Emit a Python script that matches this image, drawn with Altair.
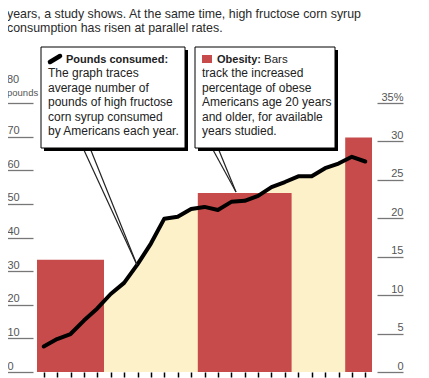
import altair as alt
import pandas as pd

# ---- data ----
years = list(range(1976, 2001))
hfcs_pounds = [7.6, 9.8, 11.3, 15.3, 18.9, 23.2, 26.5, 32.0, 38.2, 45.6,
               46.2, 48.5, 49.1, 48.2, 50.6, 50.9, 52.4, 55.0, 56.5, 58.2,
               58.2, 60.6, 62.0, 64.0, 62.6]

obesity_start = [1976, 1988, 1999]
obesity_end = [1980, 1994, 2000]
obesity_pct = [14.6, 23.3, 30.5]

pound_ticks = [0, 10, 20, 30, 40, 50, 60, 70, 80]
pct_ticks = [0, 5, 10, 15, 20, 25, 30, 35]

intro_lines = [
    "years, a study shows. At the same time, high fructose corn syrup",
    "consumption has risen at parallel rates.",
]
pounds_head = "Pounds consumed:"
pounds_body = ["The graph traces", "average number of", "pounds of high fructose",
               "corn syrup consumed", "by Americans each year."]
obesity_head = "Obesity:"
obesity_head2 = "Bars"
obesity_body = ["track the increased", "percentage of obese", "Americans age 20 years",
                "and older, for available", "years studied."]

RED = "#C84B4B"
CREAM = "#FDF1C9"
FONT = "Liberation Sans"

hfcs = pd.DataFrame({"year": years, "pounds": hfcs_pounds})
obes = pd.DataFrame({"start": obesity_start, "end": obesity_end, "pct": obesity_pct})
one = alt.Data(values=[{"a": 1}])

xscale = alt.Scale(domain=[1975.5, 2000.5], nice=False, zero=False)
yscale = alt.Scale(domain=[0, 80], nice=False)
pscale = alt.Scale(domain=[0, 35], nice=False)

xaxis = alt.Axis(values=years, labels=False, domain=False, grid=False,
                 ticks=True, tickSize=5, tickColor="black", tickWidth=1.5,
                 title=None)

area = alt.Chart(hfcs).mark_area(color=CREAM).encode(
    x=alt.X("year:Q", scale=xscale, axis=xaxis),
    y=alt.Y("pounds:Q", scale=yscale,
            axis=alt.Axis(orient="left", values=pound_ticks, domain=False, grid=False,
                          tickSize=26, tickColor="#777", tickWidth=1.3, offset=4,
                          labelAlign="left", labelPadding=0, labelBaseline="alphabetic",
                          labelOffset=-3, labelFontSize=11, labelColor="#555",
                          labelFont=FONT,
                          labelExpr="datum.value == 80 ? '' : datum.label",
                          title=None)),
)

bars = alt.Chart(obes).transform_calculate(
    x0="datum.start - 0.5", x1="datum.end + 0.5"
).mark_rect(color=RED).encode(
    x=alt.X("x0:Q", scale=xscale, axis=xaxis),
    x2="x1:Q",
    y=alt.Y("pct:Q", scale=pscale,
            axis=alt.Axis(orient="right", values=pct_ticks, domain=False, grid=False,
                          tickSize=26, tickColor="#777", tickWidth=1.3, offset=5,
                          labelAlign="right", labelPadding=0, labelBaseline="alphabetic",
                          labelOffset=-3, labelFontSize=11, labelColor="#555",
                          labelFont=FONT,
                          labelExpr="datum.value == 35 ? '35%' : datum.label",
                          title=None)),
    y2=alt.datum(0),
)

line = alt.Chart(hfcs).mark_line(color="black", strokeWidth=4, strokeCap="round",
                                 strokeJoin="round").encode(
    x=alt.X("year:Q", scale=xscale, axis=xaxis),
    y=alt.Y("pounds:Q", scale=yscale, axis=None),
)

def txt(lines, x, y, size=12, bold=False, color="#222", lh=14.5):
    return alt.Chart(one).mark_text(
        text=lines, align="left", baseline="alphabetic", font=FONT, fontSize=size,
        fontWeight="bold" if bold else "normal", color=color, lineHeight=lh
    ).encode(x=alt.value(x), y=alt.value(y))

def box(x0, y0, x1, y1):
    shadow = alt.Chart(one).mark_rect(color="black").encode(
        x=alt.value(x0 + 3), x2=alt.value(x1 + 3), y=alt.value(y0 + 3), y2=alt.value(y1 + 3))
    face = alt.Chart(one).mark_rect(fill="white", stroke="black", strokeWidth=1).encode(
        x=alt.value(x0), x2=alt.value(x1), y=alt.value(y0), y2=alt.value(y1))
    return [shadow, face]

def seg(x0, y0, x1, y1, w=1.2, color="#222", cap="butt"):
    return alt.Chart(one).mark_rule(color=color, strokeWidth=w, strokeCap=cap).encode(
        x=alt.value(x0), y=alt.value(y0), x2=alt.value(x1), y2=alt.value(y1))

layers = [area, bars, line]
layers += [txt(intro_lines, -30, -85.5, size=12.4, color="#2a2a2a", lh=14)]
layers += [txt(["80"], -30, -20, size=11, color="#555"),
           txt(["pounds"], -30, -7, size=9.5, color="#555")]
# tails
layers += [seg(46, 45, 100, 162), seg(53, 45, 100, 162)]
layers += [seg(175, 45, 199, 89), seg(181, 45, 199, 89)]
# boxes
layers += box(4, -56, 148, 45)
layers += box(158, -56, 298, 45)
# box 1 content
layers += [seg(13, -41, 23, -47, w=4.5, color="black", cap="round")]
layers += [txt([pounds_head], 29, -40, size=11, bold=True),
           txt(pounds_body, 11, -26)]
# box 2 content
layers += [alt.Chart(one).mark_rect(color=RED).encode(
    x=alt.value(165), x2=alt.value(175), y=alt.value(-48), y2=alt.value(-40))]
layers += [txt([obesity_head], 180, -40, size=11, bold=True),
           txt([obesity_head2], 227, -40, size=11.5),
           txt(obesity_body, 165, -26)]

chart = alt.layer(*layers).resolve_scale(y="independent").properties(
    width=335, height=269,
    autosize=alt.AutoSizeParams(type="none"),
    padding={"left": 29, "top": 95, "right": 49, "bottom": 6},
).configure_view(stroke=None)

chart.save("out.html", embed_options={"renderer": "svg", "actions": False})
